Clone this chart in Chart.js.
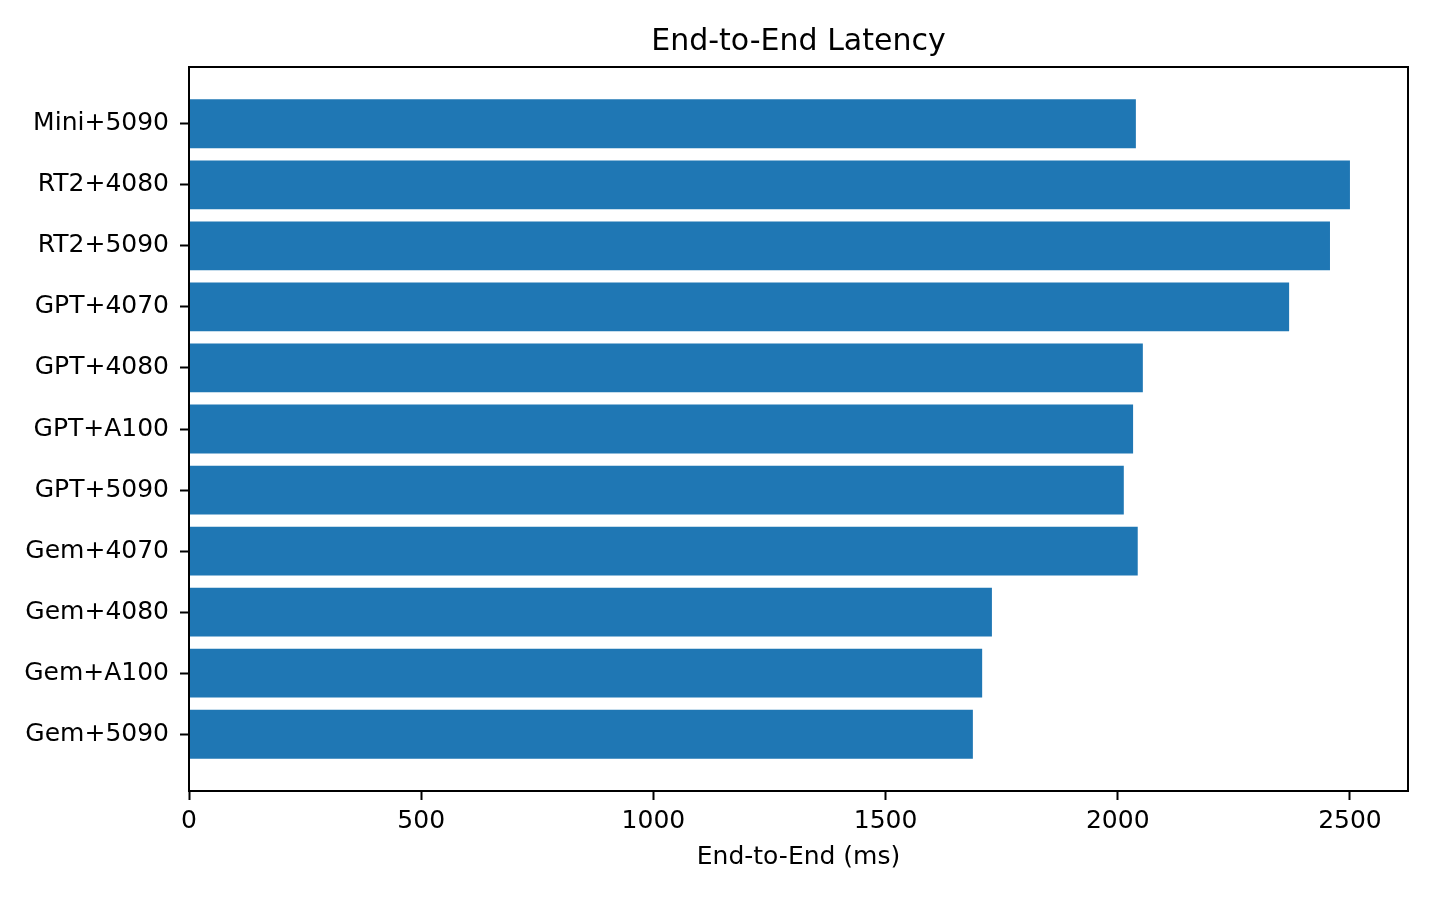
<!DOCTYPE html>
<html>
<head>
<meta charset="utf-8">
<title>End-to-End Latency</title>
<script src="https://cdn.jsdelivr.net/npm/chart.js@4.4.1/dist/chart.umd.min.js"></script>
<style>
  html, body { margin: 0; padding: 0; background: #fff; }
  #wrap { width: 1435px; height: 897px; }
</style>
</head>
<body>
<div id="wrap"><canvas id="chart-1"></canvas></div>
<script>
// bottom to top, same order as the bars are stacked in the figure
const configs = ['Gem+5090', 'Gem+A100', 'Gem+4080', 'Gem+4070', 'GPT+5090', 'GPT+A100',
                 'GPT+4080', 'GPT+4070', 'RT2+5090', 'RT2+4080', 'Mini+5090'];
const latencyMs = [1688, 1708, 1729, 2043, 2013, 2033, 2054, 2369, 2457, 2500, 2039];
const xTicks = [0, 500, 1000, 1500, 2000, 2500];

const FONT = "'DejaVu Sans', 'Liberation Sans', sans-serif";
Chart.defaults.font.family = FONT;
Chart.defaults.color = '#000';

// box round the plot area (top and right spines)
const frame = {
  id: 'frame',
  afterDraw(chart) {
    const a = chart.chartArea, c = chart.ctx;
    c.save();
    c.strokeStyle = '#000';
    c.lineWidth = 2;
    c.strokeRect(a.left, a.top, a.right - a.left, a.bottom - a.top);
    c.restore();
  }
};

const ctx1 = document.getElementById('chart-1').getContext('2d');
const myChart1 = new Chart(ctx1, {
  type: 'bar',
  data: {
    datasets: [{
      label: 'End-to-End (ms)',
      data: latencyMs.map((v, i) => ({ x: v, y: i })),
      backgroundColor: '#1f77b4',
      borderWidth: 0,
      categoryPercentage: 1.0,
      barPercentage: 0.8
    }]
  },
  options: {
    indexAxis: 'y',
    responsive: true,
    maintainAspectRatio: false,
    animation: false,
    devicePixelRatio: 1,
    layout: { padding: { left: 0, right: 27, top: 0, bottom: 0 } },
    plugins: {
      legend: { display: false },
      tooltip: { enabled: false },
      title: {
        display: true,
        fullSize: false,
        text: 'End-to-End Latency',
        font: { size: 30, weight: 'normal' },
        padding: { top: 24, bottom: 7 }
      }
    },
    scales: {
      x: {
        type: 'linear',
        position: 'bottom',
        min: 0,
        max: 2625,
        afterBuildTicks: s => { s.ticks = xTicks.map(v => ({ value: v })); },
        afterFit: s => { s.height = 106; },
        ticks: { font: { size: 25 }, padding: 6, maxRotation: 0, callback: v => String(v) },
        grid: { drawOnChartArea: false, drawTicks: true, tickLength: 9, tickColor: '#000', tickWidth: 2 },
        border: { display: true, color: '#000', width: 2 },
        title: {
          display: true,
          text: 'End-to-End (ms)',
          font: { size: 25 },
          padding: { top: 0, bottom: 25 }
        }
      },
      y: {
        type: 'linear',
        position: 'left',
        offset: false,
        min: -0.93,
        max: 10.93,
        afterBuildTicks: s => { s.ticks = configs.map((_, i) => ({ value: i })); },
        afterFit: s => { s.width = 189; },
        ticks: {
          font: { size: 25 },
          padding: 11,
          callback: v => configs[v]
        },
        grid: { offset: false, drawOnChartArea: false, drawTicks: true, tickLength: 9, tickColor: '#000', tickWidth: 2 },
        border: { display: true, color: '#000', width: 2 }
      }
    }
  },
  plugins: [frame]
});
</script>
</body>
</html>
